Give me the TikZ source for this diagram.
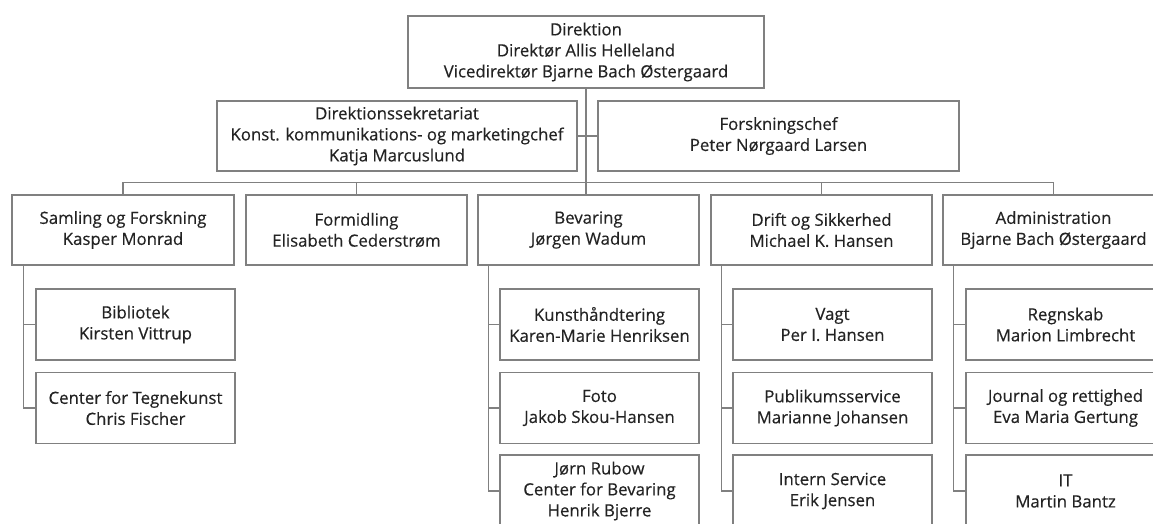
\documentclass[tikz,border=0pt]{standalone}
\usepackage{fontspec}
\setmainfont{Open Sans}
\newfontfamily\orgfont{Open Sans}[FakeBold=0.35]
\definecolor{linegray}{RGB}{128,128,128}
\definecolor{textgray}{RGB}{35,35,35}
\tikzset{
  orgbox/.style={draw=linegray, line width=1.4pt, fill=white, align=center,
    inner sep=0pt, text=textgray, font=\orgfont\fontsize{16.8}{21}\selectfont},
  topbox/.style={orgbox, minimum height=70pt},
  dept/.style={orgbox, minimum width=221pt, minimum height=70pt},
  sub/.style={orgbox, minimum width=199pt, minimum height=71pt},
  conn/.style={draw=linegray, line width=1.4pt}
}
\begin{document}
\begin{tikzpicture}[x=1pt,y=-1pt]
\useasboundingbox (0,0) rectangle (1153,523);
\clip (0,0) rectangle (1153,523);
\fill[white] (0,0) rectangle (1153,523);
% top levels
\node[topbox, minimum width=356pt, minimum height=72pt] (dir) at (586,52)
  {Direktion\\Direktør Allis Helleland\\Vicedirektør Bjarne Bach Østergaard};
\node[topbox, minimum width=360pt] (sek) at (397,136)
  {Direktionssekretariat\\Konst. kommunikations- og marketingchef\\Katja Marcuslund};
\node[topbox, minimum width=361pt] (fch) at (778.5,136)
  {Forskningschef\\Peter Nørgaard Larsen};
% departments
\node[dept, minimum width=222pt] (saml) at (123,230) {Samling og Forskning\\Kasper Monrad};
\node[dept] (form) at (356.5,230) {Formidling\\Elisabeth Cederstrøm};
\node[dept] (bev) at (588.5,230) {Bevaring\\Jørgen Wadum};
\node[dept] (drift) at (821.5,230) {Drift og Sikkerhed\\Michael K. Hansen};
\node[dept] (adm) at (1053.5,230) {Administration\\Bjarne Bach Østergaard};
% sub units
\node[sub] (bib) at (135.5,324.5) {Bibliotek\\Kirsten Vittrup};
\node[sub] (ctk) at (135.5,408) {Center for Tegnekunst\\Chris Fischer};
\node[sub] (kun) at (599.5,324.5) {Kunsthåndtering\\Karen-Marie Henriksen};
\node[sub] (foto) at (599.5,408) {Foto\\Jakob Skou-Hansen};
\node[sub, minimum height=72pt] (jr) at (599.5,491) {Jørn Rubow\\Center for Bevaring\\Henrik Bjerre};
\node[sub] (vagt) at (832.5,324.5) {Vagt\\Per I. Hansen};
\node[sub] (pub) at (832.5,408) {Publikumsservice\\Marianne Johansen};
\node[sub, minimum height=72pt] (ins) at (832.5,491) {Intern Service\\Erik Jensen};
\node[sub] (reg) at (1065.5,324.5) {Regnskab\\Marion Limbrecht};
\node[sub] (jou) at (1065.5,408) {Journal og rettighed\\Eva Maria Gertung};
\node[sub, minimum height=72pt] (it) at (1065.5,491) {IT\\Martin Bantz};
% connectors
\draw[conn] (dir.south) -- (dir.south |- bev.north);
\draw[conn] (sek.east) -- (fch.west);
\draw[conn] (saml.north) -- ++(0,-12) -| (adm.north);
\draw[conn] (form.north) -- ++(0,-12);
\draw[conn] (drift.north) -- ++(0,-12);
\draw[conn] ([xshift=12pt]saml.south west) |- (bib.west);
\draw[conn] ([xshift=12pt]saml.south west) |- (ctk.west);
\draw[conn] ([xshift=11pt]bev.south west) |- (kun.west);
\draw[conn] ([xshift=11pt]bev.south west) |- (foto.west);
\draw[conn] ([xshift=11pt]bev.south west) |- (jr.west);
\draw[conn] ([xshift=11pt]drift.south west) |- (vagt.west);
\draw[conn] ([xshift=11pt]drift.south west) |- (pub.west);
\draw[conn] ([xshift=11pt]drift.south west) |- (ins.west);
\draw[conn] ([xshift=11pt]adm.south west) |- (reg.west);
\draw[conn] ([xshift=11pt]adm.south west) |- (jou.west);
\draw[conn] ([xshift=11pt]adm.south west) |- (it.west);
\end{tikzpicture}
\end{document}
